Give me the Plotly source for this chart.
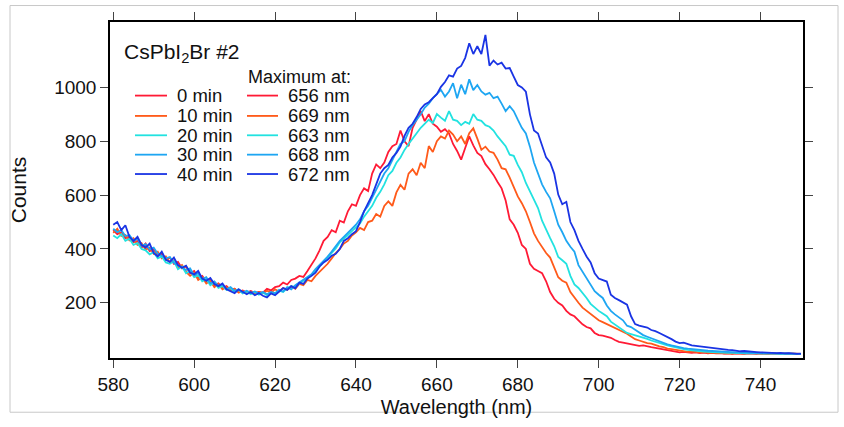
import plotly.graph_objects as go

wavelength = list(range(580, 751))

counts_0min = [
    470,455,462,440,445,425,430,405,420,392,
    398,375,385,360,368,345,352,328,335,310,
    318,292,300,280,286,265,272,255,262,248,
    252,240,246,238,244,236,240,238,252,246,
    258,262,275,268,285,290,300,296,318,340,
    365,395,430,445,470,462,505,498,540,566,
    560,600,625,615,680,714,700,721,760,782,
    790,840,800,782,850,880,912,875,901,865,
    854,835,845,829,790,764,732,775,818,785,
    757,745,715,696,675,649,625,580,510,490,
    460,415,400,345,326,318,310,280,240,215,
    200,190,170,157,150,135,120,110,105,88,
    80,78,74,70,62,55,52,49,46,44,
    40,42,38,35,33,30,28,25,22,18,
    16,18,15,14,16,13,15,12,14,12,
    13,11,12,10,12,11,10,12,11,10,
    12,11,10,12,11,10,12,11,10,11,
    10]

counts_10min = [
    460,475,448,452,432,440,415,422,398,405,
    382,390,365,372,350,358,330,340,315,300,
    312,285,295,272,282,258,270,250,258,245,
    252,238,245,235,242,232,240,235,245,238,
    250,242,255,248,262,252,270,265,285,280,
    300,315,330,345,365,385,400,420,430,450,
    462,478,470,500,505,530,520,560,577,560,
    610,638,620,680,696,674,720,700,782,760,
    800,818,810,840,825,800,818,790,830,848,
    810,768,780,762,757,732,700,696,665,630,
    595,570,540,500,458,430,405,385,368,330,
    295,282,275,240,218,200,182,170,160,148,
    135,128,121,112,105,99,92,85,75,65,
    60,55,50,48,42,38,35,30,28,25,
    22,20,18,20,17,15,17,14,15,13,
    14,12,13,11,13,12,11,13,12,11,
    12,11,10,12,11,10,11,10,11,10,
    10]

counts_20min = [
    450,440,455,430,438,415,422,400,395,380,
    388,365,372,350,345,355,325,335,310,318,
    295,302,280,288,265,275,255,262,248,255,
    240,248,235,242,232,240,230,238,228,236,
    232,245,240,255,262,258,272,282,290,302,
    318,335,348,365,385,402,425,440,452,466,
    480,495,520,540,560,590,612,640,674,690,
    720,740,768,790,812,830,850,865,880,868,
    901,888,876,912,880,876,860,872,865,901,
    880,876,860,854,840,818,800,782,750,746,
    712,685,645,613,585,552,505,470,440,410,
    370,358,345,300,268,255,238,218,196,182,
    170,160,150,130,120,110,100,88,84,80,
    75,72,66,60,55,50,46,42,38,34,
    30,28,25,23,22,20,19,18,17,16,
    15,16,14,15,13,14,12,13,12,13,
    12,11,12,11,12,10,11,10,11,10,
    10]

counts_30min = [
    475,462,470,448,452,430,438,412,418,398,
    405,382,375,365,370,348,340,332,322,328,
    302,310,288,295,272,280,262,268,250,258,
    244,250,238,245,236,242,235,240,232,240,
    236,248,242,258,250,265,275,285,298,306,
    325,340,355,372,390,410,430,445,460,475,
    490,510,540,560,590,620,650,680,700,730,
    760,790,800,835,860,880,900,925,940,960,
    975,991,966,985,1016,960,1010,975,1030,990,
    1009,985,973,980,960,966,940,912,930,912,
    880,850,829,780,721,680,640,612,588,540,
    490,462,430,408,390,340,315,290,270,243,
    230,218,190,170,157,145,135,115,110,100,
    90,80,74,68,62,56,50,46,42,38,
    34,32,30,28,27,25,24,22,21,20,
    19,18,17,18,16,15,16,14,15,13,
    14,13,12,13,12,11,12,11,10,11,
    10]

counts_40min = [
    490,500,470,488,445,430,445,415,405,420,
    385,372,390,360,352,368,340,330,338,312,
    305,318,290,282,292,270,262,272,250,242,
    236,250,242,232,240,228,236,226,220,235,
    228,240,255,248,262,254,275,270,290,300,
    312,335,350,360,375,382,400,430,440,455,
    466,500,540,570,600,640,680,700,712,740,
    757,780,820,850,865,890,920,937,945,960,
    975,1002,1020,1045,1040,1070,1080,1110,1164,1124,
    1153,1124,1195,1081,1100,1085,1092,1070,1072,1040,
    1009,1000,984,900,840,829,780,740,721,680,
    602,566,575,500,470,430,400,372,350,310,
    290,285,279,230,218,210,200,193,150,121,
    115,112,108,99,95,88,81,75,65,56,
    50,52,46,42,40,38,36,33,31,30,
    28,26,25,24,22,20,21,19,18,17,
    16,15,15,14,13,14,12,13,11,10,
    11]

series_names = ["0 min", "10 min", "20 min", "30 min", "40 min"]
maxima_labels = ["656 nm", "669 nm", "663 nm", "668 nm", "672 nm"]
series_values = [counts_0min, counts_10min, counts_20min, counts_30min, counts_40min]
colors = ["#ff1a35", "#ff5a1a", "#22e2e0", "#1ea6f2", "#1a34e4"]

x_ticks = [580, 600, 620, 640, 660, 680, 700, 720, 740]
y_ticks = [200, 400, 600, 800, 1000]

FONT = "Liberation Sans, Arial, Helvetica, sans-serif"

fig = go.Figure()
for name, vals, col in zip(series_names, series_values, colors):
    fig.add_trace(go.Scatter(x=wavelength, y=vals, mode="lines", name=name,
                             line=dict(color=col, width=1.8), showlegend=False))

# Plot-area geometry in pixels (for legend placement in paper coords)
L, R, T, B = 110, 41, 15, 65
W, H = 844, 427
pw, ph = W - L - R, H - T - B

def px(xp):
    return (xp - L) / pw

def py(yp):
    return (H - B - yp) / ph

annotations = []
shapes = []
annotations.append(dict(text="CsPbI<sub>2</sub>Br #2", x=px(122), y=py(47), xref="paper", yref="paper",
                        xanchor="left", yanchor="middle", showarrow=False,
                        font=dict(size=21, color="#111", family=FONT)))
annotations.append(dict(text="Maximum at:", x=px(246), y=py(72), xref="paper", yref="paper",
                        xanchor="left", yanchor="middle", showarrow=False,
                        font=dict(size=18, color="#111", family=FONT)))
row_y = [91, 112, 132, 152, 172]
for i, (name, lab, col) in enumerate(zip(series_names, maxima_labels, colors)):
    yy = py(row_y[i])
    shapes.append(dict(type="line", xref="paper", yref="paper", x0=px(135), x1=px(167), y0=yy, y1=yy,
                       line=dict(color=col, width=1.8)))
    shapes.append(dict(type="line", xref="paper", yref="paper", x0=px(247), x1=px(278), y0=yy, y1=yy,
                       line=dict(color=col, width=1.8)))
    annotations.append(dict(text=name, x=px(175), y=yy, xref="paper", yref="paper",
                            xanchor="left", yanchor="middle", showarrow=False,
                            font=dict(size=18.5, color="#111", family=FONT)))
    annotations.append(dict(text=lab, x=px(286), y=yy, xref="paper", yref="paper",
                            xanchor="left", yanchor="middle", showarrow=False,
                            font=dict(size=18.5, color="#111", family=FONT)))

# outer light-gray border of the figure
shapes.append(dict(type="rect", xref="paper", yref="paper", x0=px(10), x1=px(838), y0=py(418), y1=py(-2),
                   line=dict(color="#c8c8c8", width=1), layer="below"))

fig.update_layout(
    width=W, height=H,
    margin=dict(l=L, r=R, t=T, b=B),
    paper_bgcolor="white", plot_bgcolor="white",
    font=dict(family=FONT, size=19, color="#111"),
    annotations=annotations, shapes=shapes,
    showlegend=False,
)
fig.update_xaxes(range=[579.2, 750.5], tickvals=x_ticks, ticks="outside", ticklen=8, tickwidth=1.3,
                 showline=True, linecolor="black", linewidth=1.5, mirror="ticks", showgrid=False,
                 zeroline=False, tickfont=dict(size=19, family=FONT, color="#111"),
                 title=dict(text="Wavelength (nm)", font=dict(size=20, family=FONT, color="#111"), standoff=6))
fig.update_yaxes(range=[-5, 1243], tickvals=y_ticks, ticks="outside", ticklen=8, tickwidth=1.3,
                 showline=True, linecolor="black", linewidth=1.5, mirror="ticks", showgrid=False,
                 zeroline=False, tickfont=dict(size=19, family=FONT, color="#111"),
                 title=dict(text="Counts", font=dict(size=21, family=FONT, color="#111"), standoff=22))

fig.write_html("out.html")
